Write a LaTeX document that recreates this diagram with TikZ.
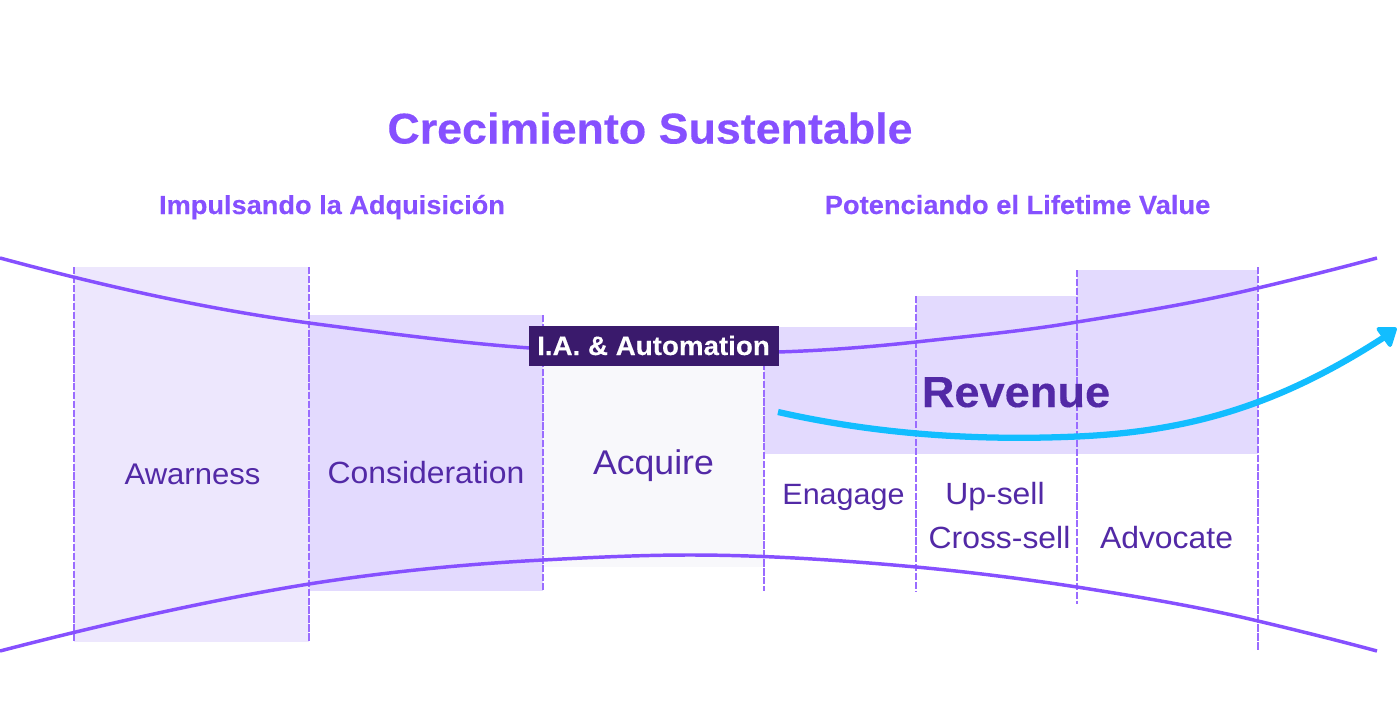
\documentclass[tikz,border=0pt]{standalone}
\usepackage{fontspec}
\setmainfont{Liberation Sans}
\newfontfamily\wideB[FakeStretch=1.04,FakeBold=0.25]{Liberation Sans Bold}
\newfontfamily\wideR[FakeStretch=1.04]{Liberation Sans}
\definecolor{violetline}{HTML}{8650FF}
\definecolor{dashv}{HTML}{9A6CFF}
\definecolor{lightA}{HTML}{EDE7FD}
\definecolor{lightB}{HTML}{E3DAFE}
\definecolor{lightC}{HTML}{F8F8FB}
\definecolor{inktext}{HTML}{5229A6}
\definecolor{darkbox}{HTML}{3A1A6C}
\definecolor{skyarrow}{HTML}{12BDFF}
\newcommand{\fsz}[1]{\fontsize{#1}{#1}\selectfont}
\tikzset{
  every node/.style={inner sep=0pt,outer sep=0pt},
  guide/.style={draw=dashv,line width=1pt,dash pattern=on 5.5pt off 1.2pt},
  funnel/.style={draw=violetline,line width=2.6pt,line cap=butt},
  heading/.style={anchor=base,text=violetline,font=\wideB\fsz{32.3}},
  subheading/.style={anchor=base,text=violetline,font=\wideB\fsz{19.6}},
  stagelabel/.style={anchor=base,text=inktext,font=\wideR\fsz{23}},
  growth/.style={draw=skyarrow,line width=4.7pt},
  growthtip/.style={draw=skyarrow,fill=skyarrow,line width=3pt,line join=round}
}
\begin{document}
\begin{tikzpicture}[x=0.75pt,y=-0.75pt]
\useasboundingbox (0,0) rectangle (1400,725);
\fill[white] (0,0) rectangle (1400,725);
% bands
\fill[lightA] (74,267) rectangle (309,642);
\fill[lightB] (309,315) rectangle (543,591);
\fill[lightC] (543,360) rectangle (764,567);
\fill[lightB] (764,327) rectangle (916,454);
\fill[lightB] (916,296) rectangle (1077,454);
\fill[lightB] (1077,270) rectangle (1258,454);
% guides
\draw[guide] (74,267) -- (74,642);
\draw[guide] (309,267) -- (309,642);
\draw[guide] (543,315) -- (543,591);
\draw[guide] (764,327) -- (764,591);
\draw[guide] (916,296) -- (916,591);
\draw[guide] (1077,270) -- (1077,604);
\draw[guide] (1258,267) -- (1258,651);
% funnel curves
\draw[funnel] (0,258) .. controls (100,285) and (200,308) .. (309,323)
  .. controls (385,333) and (460,343) .. (530,348)
  .. controls (620,354) and (700,354) .. (778,352)
  .. controls (825,350.5) and (870,347) .. (916,342)
  .. controls (970,336) and (1025,331) .. (1077,322)
  .. controls (1140,312) and (1200,302) .. (1258,288)
  .. controls (1300,278) and (1340,268) .. (1377,258);
\draw[funnel] (0,651) .. controls (100,625) and (210,600) .. (309,584)
  .. controls (385,572) and (465,564) .. (543,560)
  .. controls (590,557.5) and (640,555) .. (690,555)
  .. controls (770,555) and (850,561) .. (916,567)
  .. controls (970,572) and (1025,579) .. (1077,587)
  .. controls (1140,597) and (1200,607) .. (1258,621)
  .. controls (1300,631) and (1340,641) .. (1377,651);
% titles
\node[heading] (title) at (650,143.5) {Crecimiento Sustentable};
\node[subheading] (left) at (332,214) {Impulsando la Adquisición};
\node[subheading,font=\wideB\fsz{19.7}] (right) at (1017.5,214) {Potenciando el Lifetime Value};
% stage labels
\node[stagelabel,font=\wideR\fsz{22.4}] (awareness) at (192.5,484) {Awarness};
\node[stagelabel] (consideration) at (426,483) {Consideration};
\node[stagelabel,font=\wideR\fsz{25.7}] (acquire) at (653.5,474.5) {Acquire};
\node[stagelabel,font=\wideR\fsz{22}] (engage) at (843.5,504) {Enagage};
\node[stagelabel] (upsell) at (995,504) {Up-sell};
\node[stagelabel] (crosssell) at (999.5,548) {Cross-sell};
\node[stagelabel] (advocate) at (1166.5,548) {Advocate};
\node[anchor=base,text=inktext,font=\wideB\fsz{32.6}] (revenue) at (1016,407) {Revenue};
% box
\node[fill=darkbox,minimum width=187.5pt,minimum height=30pt] (ia) at (653.5,346) {};
\node[anchor=base,text=white,font=\wideB\fsz{20}] (ialabel) at (653.5,355) {I.A. \& Automation};
% arrow
\coordinate (gstart) at (778,412);
\coordinate (gmid) at (1077,436.5);
\coordinate (gend) at (1386,336);
\coordinate (tipa) at (1378.5,329);
\coordinate (tipb) at (1395,329);
\coordinate (tipc) at (1390,345);
\draw[growth] (gstart) .. controls (875,434) and (975,441) .. (gmid) .. controls (1190,431.5) and (1280,405) .. (gend);
\draw[growthtip] (tipa) -- (tipb) -- (tipc) -- cycle;
\end{tikzpicture}
\end{document}
